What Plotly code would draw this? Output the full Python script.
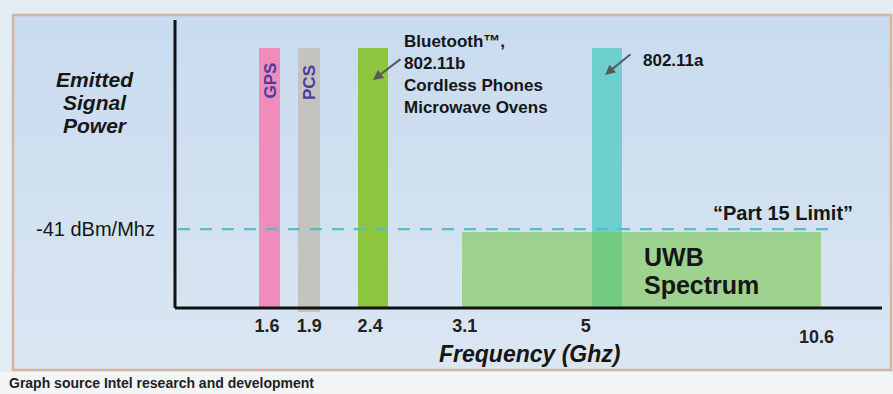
import plotly.graph_objects as go

# ---- spectrum allocations (schematic position units along the frequency axis) ----
band_names = ["GPS", "PCS", "Bluetooth / 802.11b", "802.11a", "UWB"]
band_start = [11.9, 17.4, 25.9, 59.0, 40.6]
band_end = [14.85, 20.5, 30.1, 63.2, 91.4]
band_base = [0.0, -1.4, 0.0, 0.0, 0.0]
band_power = [90.3, 90.3, 90.3, 90.3, 26.4]
band_colors = ["#f08cbc", "#c5c3bf", "#8cc63f", "#6cd0ce", "rgba(120,198,78,0.6)"]

# FCC Part 15 emission limit
limit_level = 27.4
limit_span = [0.4, 93.1]
limit_label = "-41 dBm/Mhz"

# frequency tick labels (GHz) and their positions on the schematic axis
freq_labels = ["1.6", "1.9", "2.4", "3.1", "5", "10.6"]
freq_pos = [13.0, 19.0, 27.6, 41.0, 58.1, 90.8]

W, H = 893, 394
FONT = "Liberation Sans, Arial, Helvetica, sans-serif"
INK = "#161616"


def px(x):
    return x / W


def py(y):
    return 1 - y / H


fig = go.Figure()

for name, x0, x1, b, top, col in zip(band_names, band_start, band_end,
                                      band_base, band_power, band_colors):
    fig.add_trace(go.Bar(
        x=[(x0 + x1) / 2], width=[x1 - x0], base=[b], y=[top - b],
        marker=dict(color=col, line=dict(width=0)),
        name=name, hoverinfo="name", showlegend=False,
    ))

fig.add_trace(go.Scatter(
    x=limit_span, y=[limit_level, limit_level], mode="lines",
    line=dict(color="#58bcc6", width=2.2, dash="12px,10px"),
    hoverinfo="skip", showlegend=False,
))

# decorative backdrop: framed panel with a soft vertical gradient
shapes = []
n_steps = 14
top_rgb = (201, 219, 239)
bot_rgb = (218, 230, 242)
y_top, y_bot = 15, 370
for i in range(n_steps):
    t = i / (n_steps - 1)
    c = tuple(int(round(a + (b - a) * t)) for a, b in zip(top_rgb, bot_rgb))
    ya = y_top + (y_bot - y_top) * i / n_steps
    yb = y_top + (y_bot - y_top) * (i + 1) / n_steps
    shapes.append(dict(type="rect", xref="paper", yref="paper", layer="below",
                       x0=px(13), x1=px(891), y0=py(yb + 0.5), y1=py(ya),
                       fillcolor="rgb(%d,%d,%d)" % c, line=dict(width=0)))
shapes.append(dict(type="rect", xref="paper", yref="paper", layer="below",
                   x0=px(13), x1=px(891), y0=py(y_bot), y1=py(y_top),
                   fillcolor="rgba(0,0,0,0)", line=dict(color="#d6b49e", width=2.5)))
shapes.append(dict(type="rect", xref="paper", yref="paper", layer="below",
                   x0=0, x1=1, y0=0, y1=py(372),
                   fillcolor="#f2f4f6", line=dict(width=0)))
# axis lines
shapes.append(dict(type="line", xref="x", yref="y", layer="above",
                   x0=0, x1=100, y0=0, y1=0, line=dict(color="#111", width=3)))
shapes.append(dict(type="line", xref="x", yref="y", layer="above",
                   x0=0, x1=0, y0=0, y1=100, line=dict(color="#111", width=3)))

annotations = []


def note(text, x, y, size, xref="paper", yref="paper", xanchor="center",
         yanchor="middle", color=INK, **kw):
    annotations.append(dict(text=text, x=x, y=y, xref=xref, yref=yref,
                            xanchor=xanchor, yanchor=yanchor, showarrow=False,
                            font=dict(family=FONT, size=size, color=color), **kw))


for line, yy in zip(["Emitted", "Signal", "Power"], [79, 102, 125]):
    note("<b><i>%s</i></b>" % line, px(95), py(yy), 21)

note("<b>GPS</b>", (band_start[0] + band_end[0]) / 2, py(81), 17, xref="x",
     color="#4a3ca0", textangle=-90)
note("<b>PCS</b>", (band_start[1] + band_end[1]) / 2, py(82), 17, xref="x",
     color="#4a3ca0", textangle=-90)

note("<b>Bluetooth™,<br>802.11b<br>Cordless Phones<br>Microwave Ovens</b>",
     px(402), py(75), 17, xanchor="left", align="left")
note("<b>802.11a</b>", px(641), py(60), 17, xanchor="left")
note("<b>“Part 15 Limit”</b>", px(711), py(213), 20, xanchor="left")
note("<b>UWB</b>", px(642), py(257), 25, xanchor="left")
note("<b>Spectrum</b>", px(642), py(285), 25, xanchor="left")
note("<b><i>Frequency (Ghz)</i></b>", px(529), py(354), 23)
note("<b>Graph source Intel research and development</b>", px(7), py(383), 14,
     xanchor="left", color="#222")
note("<b>%s</b>" % freq_labels[-1], freq_pos[-1], py(337), 18, xref="x", color="#222")

# pointer arrows
for hx, hy, tx, ty in [(373, 80, 402, 58), (605, 75, 632, 53)]:
    annotations.append(dict(text="", x=px(hx), y=py(hy), xref="paper", yref="paper",
                            ax=tx - hx, ay=ty - hy, showarrow=True, arrowhead=2,
                            arrowsize=1, arrowwidth=2, arrowcolor="#5a5a5a",
                            standoff=0, startstandoff=0))

fig.update_layout(
    width=W, height=H, margin=dict(l=0, r=0, t=0, b=0),
    paper_bgcolor="#e4ecf4", plot_bgcolor="rgba(0,0,0,0)",
    barmode="overlay", bargap=0,
    shapes=shapes, annotations=annotations,
    xaxis=dict(domain=[px(175 - 7.07), px(882)], range=[-1, 100],
               showgrid=False, zeroline=False, showline=False, ticks="",
               tickvals=freq_pos[:-1], ticktext=["<b>%s</b>" % t for t in freq_labels[:-1]],
               tickfont=dict(family=FONT, size=18, color="#222")),
    yaxis=dict(domain=[py(313), py(20)], range=[-1.74, 100],
               showgrid=False, zeroline=False, showline=False, ticks="",
               tickvals=[limit_level], ticktext=[limit_label],
               ticklabelstandoff=12,
               tickfont=dict(family=FONT, size=20, color=INK)),
    hovermode="closest",
)

fig.write_html("out.html")
